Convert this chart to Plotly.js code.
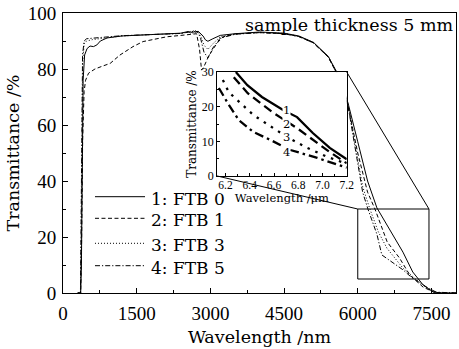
<!DOCTYPE html>
<html><head><meta charset="utf-8">
<script src="https://cdn.plot.ly/plotly-3.0.1.min.js"></script>
<style>html,body{margin:0;padding:0;background:#fff}#chart{width:459px;height:349px}</style>
</head><body><div id="chart"></div>
<script>
// ---- main spectra (wavelength nm, transmittance %) ----
const seriesNames = ["1: FTB 0", "2: FTB 1", "3: FTB 3", "4: FTB 5"];
const wl0 = [300,360,375,390,410,440,490,550,620,690,760,900,1200,1800,2400,2550,2600,2650,2700,2750,2800,2850,2900,2950,3050,3200,3500,4000,4500,4800,5100,5400,5600,5800,6000,6200,6390,6510,6720,6920,7120,7330,7530,7700,8000];
const t0  = [0,0,10,45,76,85,87.3,88.2,88.0,88.6,90.0,91.1,91.8,92.3,92.8,93.4,92.9,93.6,93.1,93.5,92.6,91.8,90.4,89.9,90.8,92.0,92.6,93.2,92.8,91.8,89.5,84.5,78,68,54,40,30.4,26.8,20.7,14.6,7.5,2.9,0.4,0,0];
const wl1 = [300,360,380,400,430,460,520,650,800,960,1160,1300,1425,1630,1900,2110,2400,2650,2720,2780,2820,2860,2950,3050,3150,3260,3500,4000,4500,4800,5100,5400,5600,5800,6000,6200,6350,6600,6850,7060,7330,7550,7700,8000];
const t1  = [0,0,20,55,72,76,78.5,80,81,82,85,86.5,88,89.8,90.8,91.5,92,92.4,92.6,87,79.6,80.5,84,87,89.5,91.5,92.5,93,92.6,91.6,89.3,84.2,77.5,67,50,36,30,18.2,12.5,6.4,2.1,0.3,0,0];
const wl3 = [300,355,370,385,400,430,480,600,800,1200,1800,2400,2600,2650,2700,2750,2800,2870,2950,3050,3200,3500,4000,4500,4800,5100,5400,5600,5800,6000,6100,6247,6420,6594,6919,7204,7470,7650,8000];
const t3  = [0,0,20,60,82,89,90,90.5,91,91.8,92.3,92.7,93.4,92.9,93.5,93.0,92,88.5,87,89,91.5,92.5,93.1,92.7,91.7,89.4,84.4,77.8,67.5,48,38,30,21.8,16,8.9,4.6,1,0,0];
const wl5 = [300,355,368,382,398,430,480,600,800,1200,1800,2400,2600,2650,2700,2750,2800,2870,2950,3050,3200,3500,4000,4500,4800,5100,5400,5600,5800,6000,6100,6207,6390,6490,6800,6919,7100,7430,7600,8000];
const t5  = [0,0,25,65,85,90,90.8,91,91.3,91.9,92.3,92.7,93.3,92.8,93.6,93.0,91,86,84,87.5,91,92.4,93,92.6,91.6,89.3,84.3,77.6,67,46,36,30,21,13.6,10,8.3,5.5,1.8,0.3,0];

// ---- inset (wavelength µm, transmittance %) ----
const iw0 = [6.285,6.38,6.50,6.678,6.79,6.92,7.06,7.186,7.2];
const it0 = [30,26.2,22.8,19.0,17.0,12.4,8.1,5.2,4.8];
const iw1 = [6.268,6.383,6.49,6.596,6.79,6.92,7.06,7.186,7.2];
const it1 = [28.5,23.9,21.0,18.2,13.8,10.4,6.9,4.0,3.7];
const iw3 = [6.178,6.227,6.325,6.43,6.555,6.71,6.875,7.04,7.186,7.2];
const it3 = [27.7,24.2,21.0,17.6,14.7,11.2,8.1,5.5,3.7,3.5];
const iw5 = [6.145,6.219,6.31,6.43,6.57,6.735,6.957,7.186,7.2];
const it5 = [25.4,21.0,16.1,12.7,10.4,7.5,5.2,2.6,2.4];
const insetLabels = ["1","2","3","4"];
const insetLabelX = [6.707,6.707,6.707,6.707];
const insetLabelY = [19.0,15.0,11.2,6.9];

const mainX = [wl0, wl1, wl3, wl5], mainY = [t0, t1, t3, t5];
const insX = [iw0, iw1, iw3, iw5], insY = [it0, it1, it3, it5];
const mainDash = ["solid", "4px,2.5px", "1px,2px", "5px,2px,1.2px,2px"];
const insDash = ["solid", "9px,5px", "2.5px,6px", "9px,4px,2.5px,4px"];

const TFONT = "'DejaVu Serif', serif";            // text
const NFONT = "'Liberation Serif', 'Times New Roman', serif"; // tick numbers
const XMAX = 8000, YMAX = 100;
const insDomX = [0.392, 0.722], insDomY = [0.418, 0.789];
const zoomBox = {x0: 6000, x1: 7450, y0: 5, y1: 30};

const traces = [];
for (let i = 0; i < 4; i++) {
  traces.push({x: mainX[i], y: mainY[i], type: "scatter", mode: "lines", name: seriesNames[i],
    line: {color: "#000", width: 1, dash: mainDash[i]}, showlegend: false, xaxis: "x", yaxis: "y"});
}
for (let i = 0; i < 4; i++) {
  traces.push({x: insX[i], y: insY[i], type: "scatter", mode: "lines", name: insetLabels[i],
    line: {color: "#000", width: 2.3, dash: insDash[i]}, showlegend: false, xaxis: "x2", yaxis: "y2"});
}

// manual legend
const legLineX = [0.0814, 0.2087], legTextX = 0.218;
const legPy = [196.7, 218.3, 243.3, 265.7];
const plotTop = 13, plotBot = 293;
const toPaperY = py => (plotBot - py) / (plotBot - plotTop);

const shapes = [
  {type: "rect", xref: "x", yref: "y", x0: zoomBox.x0, x1: zoomBox.x1, y0: zoomBox.y0, y1: zoomBox.y1, line: {color: "#000", width: 1}},
  {type: "line", xref: "paper", yref: "paper", x0: insDomX[1], y0: insDomY[1], x1: zoomBox.x1 / XMAX, y1: zoomBox.y1 / YMAX, line: {color: "#000", width: 1}},
  {type: "line", xref: "paper", yref: "paper", x0: insDomX[0], y0: insDomY[0], x1: zoomBox.x0 / XMAX, y1: zoomBox.y1 / YMAX, line: {color: "#000", width: 1}}
];
const annotations = [
  {text: "sample thickness 5 mm", xref: "paper", yref: "paper", x: 0.998, y: toPaperY(25), xanchor: "right", yanchor: "middle", showarrow: false, font: {family: TFONT, size: 17.5, color: "#000"}}
];
for (let i = 0; i < 4; i++) {
  const py = toPaperY(legPy[i]);
  shapes.push({type: "line", xref: "paper", yref: "paper", x0: legLineX[0], x1: legLineX[1], y0: py, y1: py, line: {color: "#000", width: 1, dash: mainDash[i]}});
  annotations.push({text: seriesNames[i], xref: "paper", yref: "paper", x: legTextX, y: py, yshift: -2, xanchor: "left", yanchor: "middle", showarrow: false, font: {family: TFONT, size: 17, color: "#000"}});
  annotations.push({text: insetLabels[i], xref: "x2", yref: "y2", x: insetLabelX[i], y: insetLabelY[i], showarrow: false, bgcolor: "#fff", borderpad: 0, font: {family: TFONT, size: 11.5, color: "#000"}});
}

const axBase = {showgrid: false, zeroline: false, showline: true, linecolor: "#000", linewidth: 1, mirror: true, ticks: "inside", tickcolor: "#000", color: "#000"};

const layout = {
  width: 459, height: 349,
  margin: {l: 63, r: 3, t: 13, b: 56},
  paper_bgcolor: "#fff", plot_bgcolor: "#fff",
  font: {family: TFONT, color: "#000"},
  showlegend: false,
  xaxis: Object.assign({}, axBase, {range: [0, XMAX], tickvals: [0,1500,3000,4500,6000,7500], ticklen: 5,
    minor: {dtick: 750, tick0: 0, ticks: "inside", ticklen: 3, tickcolor: "#000"},
    tickfont: {family: NFONT, size: 19}, ticklabelstandoff: 3,
    title: {text: "Wavelength /nm", font: {family: TFONT, size: 17.5}, standoff: 7}}),
  yaxis: Object.assign({}, axBase, {range: [0, YMAX], tickvals: [0,20,40,60,80,100], ticklen: 5,
    minor: {dtick: 10, tick0: 0, ticks: "inside", ticklen: 3, tickcolor: "#000"},
    tickfont: {family: NFONT, size: 19}, ticklabelstandoff: 2,
    title: {text: "Transmittance /%", font: {family: TFONT, size: 17.5}, standoff: 3}}),
  xaxis2: Object.assign({}, axBase, {domain: insDomX, anchor: "y2", range: [6.13, 7.2], tickvals: [6.2,6.4,6.6,6.8,7.0,7.2], ticktext: ["6.2","6.4","6.6","6.8","7.0","7.2"], ticklen: 3,
    minor: {dtick: 0.1, tick0: 6.2, ticks: "inside", ticklen: 2, tickcolor: "#000"},
    tickfont: {family: NFONT, size: 11.5}, ticklabelstandoff: -2,
    title: {text: "Wavelength /μm", font: {family: TFONT, size: 11.5}, standoff: 1}}),
  yaxis2: Object.assign({}, axBase, {domain: insDomY, anchor: "x2", range: [0, 30], tickvals: [0,10,20,30], ticklen: 3,
    minor: {dtick: 5, tick0: 0, ticks: "inside", ticklen: 2, tickcolor: "#000"},
    tickfont: {family: NFONT, size: 12}, ticklabelstandoff: 0,
    title: {text: "Transmittance /%", font: {family: TFONT, size: 12}, standoff: 2}}),
  shapes: shapes,
  annotations: annotations
};

Plotly.newPlot("chart", traces, layout, {staticPlot: true, displayModeBar: false});
</script></body></html>
